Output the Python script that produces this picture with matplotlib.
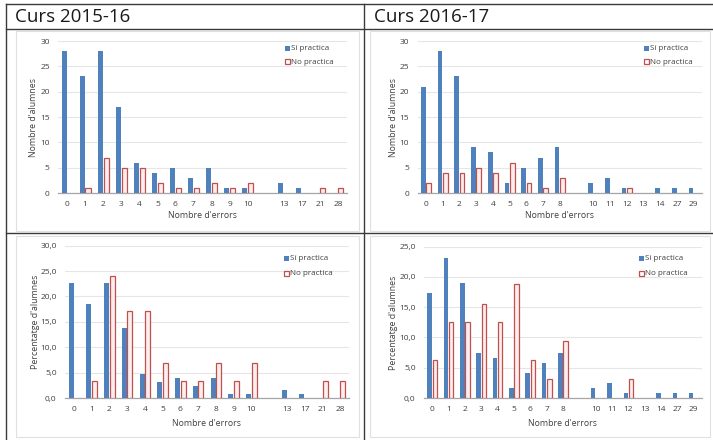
import matplotlib
matplotlib.use("Agg")
import matplotlib.pyplot as plt
from matplotlib.lines import Line2D
from matplotlib.patches import Rectangle
from matplotlib.ticker import FuncFormatter, MultipleLocator
import numpy as np

# ---------------- data ----------------
titles = ["Curs 2015-16", "Curs 2016-17"]
series_names = ["Sí practica", "No practica"]

cats_1516 = ["0", "1", "2", "3", "4", "5", "6", "7", "8", "9", "10", "", "13", "17", "21", "28"]
si_1516 = [28, 23, 28, 17, 6, 4, 5, 3, 5, 1, 1, 0, 2, 1, 0, 0]
no_1516 = [0, 1, 7, 5, 5, 2, 1, 1, 2, 1, 2, 0, 0, 0, 1, 1]
pct_si_1516 = [22.6, 18.5, 22.6, 13.7, 4.8, 3.2, 4.0, 2.4, 4.0, 0.8, 0.8, 0, 1.6, 0.8, 0, 0]
pct_no_1516 = [0, 3.4, 24.1, 17.2, 17.2, 6.9, 3.4, 3.4, 6.9, 3.4, 6.9, 0, 0, 0, 3.4, 3.4]

cats_1617 = ["0", "1", "2", "3", "4", "5", "6", "7", "8", "", "10", "11", "12", "13", "14", "27", "29"]
si_1617 = [21, 28, 23, 9, 8, 2, 5, 7, 9, 0, 2, 3, 1, 0, 1, 1, 1]
no_1617 = [2, 4, 4, 5, 4, 6, 2, 1, 3, 0, 0, 0, 1, 0, 0, 0, 0]
pct_si_1617 = [17.4, 23.1, 19.0, 7.4, 6.6, 1.7, 4.1, 5.8, 7.4, 0, 1.7, 2.5, 0.8, 0, 0.8, 0.8, 0.8]
pct_no_1617 = [6.3, 12.5, 12.5, 15.6, 12.5, 18.8, 6.3, 3.1, 9.4, 0, 0, 0, 3.1, 0, 0, 0, 0]

xlabel = "Nombre d'errors"
ylabel_count = "Nombre d'alumnes"
ylabel_pct = "Percentatge d'alumnes"

# ---------------- style ----------------
FONT = ["Open Sans", "DejaVu Sans"]
plt.rcParams["font.family"] = FONT
BLUE = "#4F81BD"
RED = "#C0504D"
PINK = "#FCEEEE"
GRID = "#E6E6E6"
TXT = "#404040"

W, H = 713, 440
fig = plt.figure(figsize=(W / 100, H / 100), dpi=100)
fig.patch.set_facecolor("white")


def px_rect(x0, y0, x1, y1):
    return [x0 / W, 1 - y1 / H, (x1 - x0) / W, (y1 - y0) / H]


def hline(y, x0, x1, c="#3a3a3a", lw=1.0):
    fig.add_artist(Line2D([x0 / W, x1 / W], [1 - y / H, 1 - y / H], color=c, lw=lw))


def vline(x, y0, y1, c="#3a3a3a", lw=1.0):
    fig.add_artist(Line2D([x / W, x / W], [1 - y0 / H, 1 - y1 / H], color=c, lw=lw))


# chart-area light borders
for (x0, y0, x1, y1) in [(16, 31, 359, 231), (370, 31, 710, 231),
                         (16, 236, 359, 437), (370, 236, 710, 437)]:
    fig.add_artist(Rectangle((x0 / W, 1 - y1 / H), (x1 - x0) / W, (y1 - y0) / H,
                             transform=fig.transFigure, fill=False,
                             edgecolor="#E0E0E0", lw=0.8))

hline(4, 6, W)
hline(29.5, 6, W)
hline(233.5, 6, W)
vline(6, 4, H)
vline(363.5, 4, H)

fig.text(15 / W, 1 - 17 / H, titles[0], fontsize=13.5, va="center", ha="left",
         color="#1a1a1a")
fig.text(374 / W, 1 - 17 / H, titles[1], fontsize=13.5, va="center", ha="left",
         color="#1a1a1a")

panels = [
    (px_rect(58, 41, 347, 193), cats_1516, si_1516, no_1516, 30, 5, False, ylabel_count, (287, 49, 62), 33, 215),
    (px_rect(417.6, 41, 702, 193), cats_1617, si_1617, no_1617, 30, 5, False, ylabel_count, (646, 49, 62), 393, 215),
    (px_rect(65, 245.7, 349, 398), cats_1516, pct_si_1516, pct_no_1516, 30, 5, True, ylabel_pct, (286, 258, 273), 35, 423),
    (px_rect(424, 246.7, 702, 398), cats_1617, pct_si_1617, pct_no_1617, 25, 5, True, ylabel_pct, (641, 258, 273), 393, 423),
]

bw = 0.28
off = 0.16
for rect, cats, si, no, ymax, step, pct, ylab, leg, ylx, xly in panels:
    ax = fig.add_axes(rect)
    x = np.arange(len(cats))
    ax.bar(x - off, si, width=bw, color=BLUE, edgecolor="none", zorder=3)
    ecs = [RED if v > 0 else "none" for v in no]
    fcs = [PINK if v > 0 else "none" for v in no]
    ax.bar(x + off, no, width=bw, color=fcs, edgecolor=ecs, linewidth=0.9, zorder=3)
    ax.set_xlim(-0.5, len(cats) - 0.5)
    ax.set_ylim(0, ymax)
    ax.yaxis.set_major_locator(MultipleLocator(step))
    if pct:
        ax.yaxis.set_major_formatter(FuncFormatter(lambda v, p: f"{v:.1f}".replace(".", ",")))
    else:
        ax.yaxis.set_major_formatter(FuncFormatter(lambda v, p: f"{v:.0f}"))
    ax.set_xticks(x)
    ax.set_xticklabels(cats)
    ax.tick_params(axis="both", length=0, labelsize=6, colors=TXT, pad=6)
    ax.grid(axis="y", color=GRID, lw=0.8, zorder=0)
    for s in ["top", "right", "left"]:
        ax.spines[s].set_visible(False)
    ax.spines["bottom"].set_color("#A6A6A6")
    ax.spines["bottom"].set_linewidth(0.9)
    ax.set_facecolor("none")
    x0p = rect[0] * W
    wp = rect[2] * W
    fig.text((x0p + wp / 2) / W, 1 - xly / H, xlabel, fontsize=6.3, ha="center",
             va="center", color=TXT)
    fig.text(ylx / W, rect[1] + rect[3] / 2, ylab, fontsize=6.3, rotation=90,
             ha="center", va="center", color=TXT)
    lx, ly1, ly2 = leg
    fig.add_artist(Rectangle(((lx - 2.5) / W, 1 - (ly1 + 2.5) / H), 5 / W, 5 / H,
                             transform=fig.transFigure, facecolor=BLUE, edgecolor="none"))
    fig.add_artist(Rectangle(((lx - 2.5) / W, 1 - (ly2 + 2.5) / H), 5 / W, 5 / H,
                             transform=fig.transFigure, facecolor="white", edgecolor=RED, lw=0.9))
    fig.text((lx + 4) / W, 1 - ly1 / H, series_names[0], fontsize=5.8, ha="left",
             va="center", color=TXT)
    fig.text((lx + 4) / W, 1 - ly2 / H, series_names[1], fontsize=5.8, ha="left",
             va="center", color=TXT)

fig.savefig("out.png", dpi=100, facecolor="white")
